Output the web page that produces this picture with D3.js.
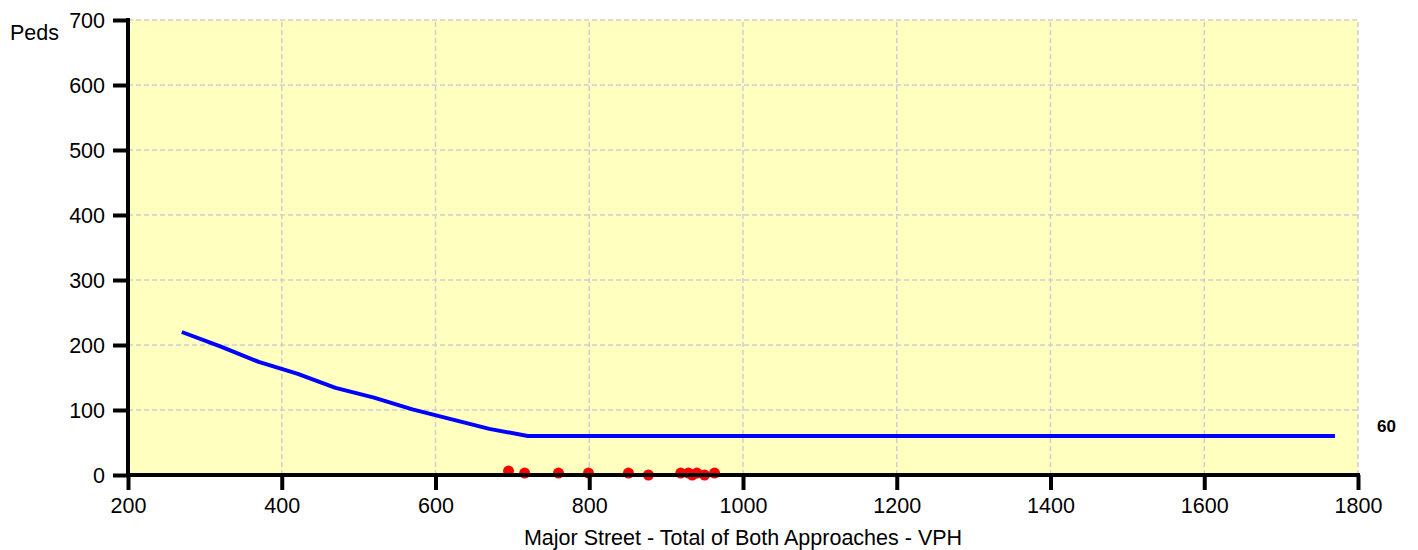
<!DOCTYPE html>
<html>
<head>
<meta charset="utf-8">
<script src="https://cdn.jsdelivr.net/npm/d3@7"></script>
<style>
  body { margin: 0; background: #fff; }
  svg { display: block; font-family: 'Liberation Sans', Arial, sans-serif; }
</style>
</head>
<body>
<div id="chart"></div>
<script>
// warrant curve (major street vph vs min peds)
const curveVph = [270, 320, 370, 420, 470, 520, 570, 620, 670, 720, 1770];
const curvePeds = [220, 198, 174, 156, 134, 119, 101, 86, 71, 60, 60];

// observed hours
const obsVph = [695, 716, 760, 799, 851, 877, 919, 929, 934, 940, 950, 963];
const obsPeds = [6, 3, 3, 3, 3, 0, 3, 3, 0, 3, 0, 3];

const xTicks = [200, 400, 600, 800, 1000, 1200, 1400, 1600, 1800];
const yTicks = [0, 100, 200, 300, 400, 500, 600, 700];
const endLabel = '60';

(function() {
    'use strict';

    const width = 1418, height = 550;
    const margin = { left: 128, right: 60, top: 20, bottom: 75 };

    const svg = d3.select('#chart').append('svg')
        .attr('width', width)
        .attr('height', height);

    const x = d3.scaleLinear().domain([200, 1800]).range([margin.left, width - margin.right]);
    const y = d3.scaleLinear().domain([0, 700]).range([height - margin.bottom, margin.top]);

    // plot background
    svg.append('rect')
        .attr('x', x(200))
        .attr('y', y(700))
        .attr('width', x(1800) - x(200))
        .attr('height', y(0) - y(700))
        .attr('fill', '#ffffc0');

    // grid
    const grid = svg.append('g').attr('stroke', '#cfcfcf').attr('stroke-width', 1.5).attr('stroke-dasharray', '5,3');
    grid.selectAll('.gx').data(xTicks.slice(1)).enter().append('line')
        .attr('x1', d => x(d)).attr('x2', d => x(d))
        .attr('y1', y(0)).attr('y2', y(700));
    grid.selectAll('.gy').data(yTicks.slice(1)).enter().append('line')
        .attr('x1', x(200)).attr('x2', x(1800))
        .attr('y1', d => y(d)).attr('y2', d => y(d));

    // curve
    const pts = curveVph.map((v, i) => [v, curvePeds[i]]);
    svg.append('path')
        .datum(pts)
        .attr('fill', 'none')
        .attr('stroke', '#0000ff')
        .attr('stroke-width', 4)
        .attr('stroke-linejoin', 'round')
        .attr('d', d3.line().x(d => x(d[0])).y(d => y(d[1])));

    // observations
    svg.append('g').selectAll('circle').data(obsVph).enter().append('circle')
        .attr('cx', d => x(d))
        .attr('cy', (d, i) => y(obsPeds[i]))
        .attr('r', 5.5)
        .attr('fill', '#ff0000');

    // axes
    const xAxis = d3.axisBottom(x).tickValues(xTicks).tickFormat(d3.format('d')).tickSize(15).tickPadding(8);
    const gx = svg.append('g').attr('transform', `translate(0,${y(0)})`).call(xAxis);
    const yAxis = d3.axisLeft(y).tickValues(yTicks).tickFormat(d3.format('d')).tickSize(15).tickPadding(8);
    const gy = svg.append('g').attr('transform', `translate(${x(200)},0)`).call(yAxis);

    [gx, gy].forEach(g => {
        g.select('.domain').remove();
        g.selectAll('.tick line').attr('stroke', '#000').attr('stroke-width', 4);
        g.selectAll('.tick text')
            .attr('fill', '#000')
            .style('font-size', '21.5px')
            .style('font-family', "'Liberation Sans', Arial, sans-serif");
    });
    gy.selectAll('.tick text').attr('dy', '0.35em');

    svg.append('line')
        .attr('x1', x(200)).attr('x2', x(1800) + 2)
        .attr('y1', y(0)).attr('y2', y(0))
        .attr('stroke', '#000').attr('stroke-width', 4);
    svg.append('line')
        .attr('x1', x(200)).attr('x2', x(200))
        .attr('y1', y(700) - 2).attr('y2', y(0) + 2)
        .attr('stroke', '#000').attr('stroke-width', 4);

    // labels
    svg.append('text')
        .attr('x', 10).attr('y', 40)
        .style('font-size', '21.5px')
        .text('Peds');

    svg.append('text')
        .attr('x', x(1000)).attr('y', 545)
        .attr('text-anchor', 'middle')
        .style('font-size', '21.5px')
        .text('Major Street - Total of Both Approaches - VPH');

    svg.append('text')
        .attr('x', 1377).attr('y', y(curvePeds[curvePeds.length - 1]) - 4)
        .style('font-size', '17px')
        .style('font-weight', 'bold')
        .text(endLabel);
}());
</script>
</body>
</html>
